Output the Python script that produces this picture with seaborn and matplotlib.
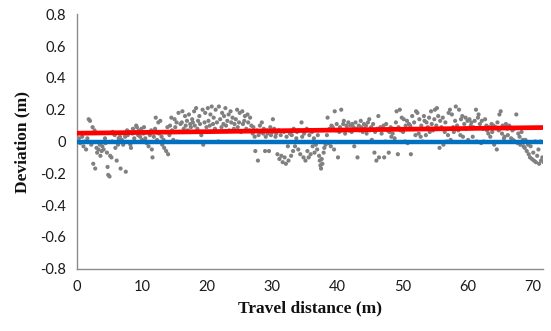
import numpy as np
import pandas as pd
import matplotlib
matplotlib.use('Agg')
import matplotlib.pyplot as plt
import seaborn as sns

# travel distance (m) of each measured point
dist = [
    0.3, 0.5, 0.8, 1.0, 1.2, 1.4, 1.6, 1.8, 2.0, 2.2,
    2.4, 2.5, 2.7, 2.8, 3.0, 3.1, 3.3, 3.5, 3.6, 3.8,
    3.9, 4.1, 4.3, 4.4, 4.6, 4.7, 4.8, 5.0, 5.1, 5.3,
    5.4, 5.5, 5.6, 5.8, 5.9, 6.1, 6.3, 6.4, 6.6, 6.7,
    6.9, 7.1, 7.2, 7.4, 7.5, 7.7, 7.8, 8.0, 8.2, 8.3,
    8.5, 8.6, 8.8, 8.9, 9.1, 9.2, 9.4, 9.5, 9.7, 9.9,
    10.0, 10.2, 10.3, 10.5, 10.7, 10.8, 11.0, 11.2, 11.4, 11.5,
    11.6, 11.8, 12.0, 12.1, 12.3, 12.5, 12.6, 12.8, 13.0, 13.1,
    13.3, 13.4, 13.6, 13.7, 13.9, 14.0, 14.2, 14.3, 14.5, 14.6,
    14.8, 15.0, 15.1, 15.3, 15.4, 15.6, 15.8, 15.9, 16.1, 16.2,
    16.4, 16.6, 16.7, 16.9, 17.0, 17.2, 17.4, 17.5, 17.7, 17.8,
    18.0, 18.1, 18.3, 18.5, 18.6, 18.8, 18.9, 19.1, 19.3, 19.4,
    19.6, 19.7, 19.9, 20.1, 20.2, 20.4, 20.5, 20.7, 20.9, 21.0,
    21.2, 21.3, 21.5, 21.7, 21.8, 22.0, 22.2, 22.3, 22.5, 22.6,
    22.8, 22.9, 23.1, 23.3, 23.4, 23.6, 23.7, 23.9, 24.1, 24.2,
    24.4, 24.6, 24.7, 24.9, 25.0, 25.2, 25.4, 25.5, 25.7, 25.8,
    26.0, 26.2, 26.3, 26.5, 26.6, 26.8, 27.0, 27.1, 27.3, 27.4,
    27.6, 27.8, 27.9, 28.1, 28.2, 28.4, 28.6, 28.7, 28.9, 29.0,
    29.2, 29.3, 29.5, 29.7, 29.8, 30.0, 30.1, 30.3, 30.5, 30.6,
    30.8, 31.0, 31.1, 31.3, 31.4, 31.6, 31.8, 31.9, 32.1, 32.2,
    32.4, 32.5, 32.7, 32.9, 33.0, 33.2, 33.3, 33.5, 33.7, 33.8,
    34.0, 34.1, 34.3, 34.5, 34.6, 34.8, 34.9, 35.1, 35.3, 35.4,
    35.6, 35.7, 35.9, 36.1, 36.2, 36.4, 36.5, 36.7, 36.9, 37.0,
    37.2, 37.3, 37.4, 37.5, 37.6, 37.7, 37.9, 38.0, 38.2, 38.4,
    38.5, 38.7, 38.8, 39.0, 39.1, 39.3, 39.5, 39.6, 39.8, 39.9,
    40.1, 40.3, 40.4, 40.6, 40.7, 40.9, 41.0, 41.2, 41.4, 41.5,
    41.7, 41.8, 42.0, 42.2, 42.3, 42.5, 42.6, 42.8, 43.0, 43.1,
    43.3, 43.4, 43.6, 43.7, 43.9, 44.1, 44.2, 44.4, 44.5, 44.7,
    44.9, 45.0, 45.2, 45.3, 45.5, 45.7, 45.8, 46.0, 46.1, 46.3,
    46.4, 46.6, 46.8, 46.9, 47.1, 47.2, 47.4, 47.5, 47.7, 47.9,
    48.0, 48.2, 48.3, 48.5, 48.6, 48.8, 49.0, 49.1, 49.3, 49.4,
    49.6, 49.7, 49.9, 50.1, 50.2, 50.4, 50.5, 50.7, 50.8, 51.0,
    51.2, 51.3, 51.5, 51.6, 51.8, 52.0, 52.1, 52.3, 52.5, 52.6,
    52.8, 52.9, 53.1, 53.3, 53.4, 53.6, 53.7, 53.9, 54.1, 54.2,
    54.4, 54.5, 54.7, 54.9, 55.0, 55.2, 55.3, 55.5, 55.7, 55.8,
    56.0, 56.2, 56.3, 56.5, 56.6, 56.8, 57.0, 57.1, 57.3, 57.4,
    57.6, 57.8, 57.9, 58.1, 58.2, 58.4, 58.6, 58.7, 58.9, 59.0,
    59.2, 59.3, 59.5, 59.7, 59.8, 60.0, 60.1, 60.3, 60.5, 60.6,
    60.8, 60.9, 61.1, 61.3, 61.4, 61.6, 61.7, 61.9, 62.1, 62.2,
    62.4, 62.5, 62.7, 62.9, 63.0, 63.2, 63.3, 63.5, 63.7, 63.8,
    64.0, 64.1, 64.3, 64.5, 64.6, 64.8, 64.9, 65.1, 65.3, 65.4,
    65.6, 65.7, 65.9, 66.1, 66.2, 66.4, 66.5, 66.7, 66.9, 67.0,
    67.2, 67.3, 67.5, 67.7, 67.8, 68.0, 68.1, 68.3, 68.5, 68.6,
    68.8, 68.9, 69.1, 69.3, 69.4, 69.6, 69.7, 69.9, 70.1, 70.2,
    70.4, 70.5, 70.7, 70.9, 71.0, 71.2, 71.3, 71.5, 71.7, 71.9,
]
# deviation (m) at each point
dev = [
    0.02, -0.01, 0.03, -0.03, 0.00, -0.05, 0.02, 0.14, 0.13, -0.02,
    0.09, -0.14, 0.07, -0.17, -0.04, -0.07, -0.05, -0.02, -0.09, -0.06,
    -0.03, -0.05, 0.02, -0.01, -0.07, -0.16, -0.21, -0.22, -0.09, -0.10,
    0.00, 0.06, 0.05, 0.04, -0.04, -0.12, -0.02, 0.02, 0.03, -0.17,
    0.01, -0.02, 0.05, 0.03, -0.19, 0.07, 0.04, 0.06, -0.02, -0.04,
    0.05, 0.08, 0.02, 0.06, 0.10, 0.09, 0.04, 0.07, 0.03, 0.08,
    0.01, 0.05, 0.09, 0.02, -0.01, 0.06, -0.03, 0.04, 0.07, -0.05,
    -0.10, 0.03, 0.08, 0.15, 0.01, 0.12, 0.05, 0.13, 0.03, -0.02,
    0.01, -0.04, 0.06, -0.06, 0.09, -0.08, 0.04, 0.10, 0.15, 0.07,
    0.01, 0.14, 0.09, 0.12, 0.00, 0.18, 0.06, 0.11, 0.12, 0.19,
    0.08, 0.16, 0.10, 0.13, 0.07, 0.17, 0.11, 0.09, 0.14, 0.12,
    0.19, 0.10, 0.21, 0.08, 0.13, 0.16, 0.11, 0.04, 0.20, -0.02,
    0.12, 0.18, 0.09, 0.21, 0.13, 0.10, 0.17, 0.22, 0.11, 0.15,
    0.08, 0.20, 0.12, 0.00, 0.22, 0.14, 0.09, 0.18, 0.11, 0.16,
    0.21, 0.10, 0.13, 0.17, 0.07, 0.19, 0.12, 0.15, 0.08, 0.11,
    0.14, 0.20, 0.09, 0.12, 0.18, 0.06, 0.19, 0.11, 0.13, 0.16,
    0.08, 0.17, 0.12, 0.07, 0.15, 0.10, 0.05, 0.09, 0.03, -0.06,
    0.07, -0.12, 0.04, 0.10, 0.06, 0.12, 0.05, 0.08, -0.06, 0.03,
    0.07, 0.05, -0.06, 0.09, 0.04, 0.06, 0.14, 0.08, 0.03, 0.05,
    -0.08, 0.07, -0.11, 0.04, -0.09, -0.13, 0.06, -0.10, -0.14, 0.03,
    -0.03, -0.12, 0.05, -0.09, 0.04, -0.06, 0.08, -0.03, 0.02, 0.06,
    -0.05, 0.07, -0.08, 0.12, 0.03, -0.10, 0.05, -0.12, 0.08, -0.06,
    -0.10, 0.04, -0.08, 0.06, -0.03, 0.02, -0.07, -0.02, -0.05, 0.04,
    -0.09, -0.12, -0.15, -0.17, -0.11, -0.14, -0.07, -0.04, -0.02, 0.04,
    0.15, -0.01, 0.08, -0.03, 0.10, 0.09, -0.05, 0.19, 0.07, 0.11,
    -0.10, 0.06, 0.09, 0.20, 0.07, 0.11, 0.13, 0.05, 0.10, 0.08,
    0.12, 0.07, 0.10, 0.06, 0.11, 0.09, -0.03, 0.12, 0.08, -0.10,
    0.10, 0.07, 0.13, 0.09, 0.06, 0.11, 0.08, 0.10, 0.05, 0.12,
    0.14, 0.07, 0.09, 0.01, 0.11, -0.07, 0.06, -0.12, 0.08, 0.16,
    -0.10, 0.09, 0.05, 0.08, 0.10, -0.10, 0.00, 0.11, 0.07, -0.07,
    0.06, 0.09, 0.03, 0.05, 0.08, 0.02, 0.12, 0.19, -0.08, 0.09,
    0.20, 0.07, 0.15, 0.06, 0.14, 0.00, 0.10, 0.13, -0.01, 0.11,
    0.10, -0.08, 0.16, 0.08, 0.12, 0.04, 0.19, 0.18, 0.05, 0.14,
    0.03, 0.10, 0.00, 0.16, 0.13, 0.04, 0.12, 0.09, 0.15, 0.06,
    0.19, 0.11, 0.07, 0.14, 0.20, 0.10, 0.21, 0.16, -0.04, 0.13,
    0.09, 0.15, -0.02, 0.06, 0.12, 0.00, 0.04, 0.18, 0.20, 0.01,
    0.17, 0.09, 0.06, 0.13, 0.22, 0.10, 0.07, 0.20, 0.04, 0.14,
    0.16, 0.03, 0.11, 0.15, 0.08, 0.13, 0.01, 0.14, 0.10, 0.12,
    0.03, 0.09, 0.13, 0.20, 0.00, 0.15, 0.17, 0.11, -0.01, 0.13,
    0.08, 0.00, 0.14, 0.10, 0.07, 0.05, 0.09, 0.03, 0.11, 0.06,
    0.10, -0.02, 0.09, -0.05, 0.12, 0.07, 0.17, 0.19, 0.05, 0.10,
    0.02, 0.03, 0.11, 0.08, 0.04, 0.10, 0.09, 0.02, 0.07, 0.01,
    0.08, 0.00, 0.17, -0.01, 0.05, 0.03, -0.02, 0.06, 0.01, -0.03,
    -0.04, 0.01, -0.06, -0.02, -0.08, -0.10, -0.03, -0.11, -0.07, -0.12,
    0.00, -0.13, -0.09, -0.05, -0.14, 0.00, -0.12, -0.10, -0.13, -0.04,
]
# red trend line and blue reference line (end points)
trend_x = [0, 72]
trend_y = [0.052, 0.088]
ref_x = [0, 72]
ref_y = [0.0, 0.0]

df = pd.DataFrame({'dist': dist, 'dev': dev})

sns.set_style('white')
fig = plt.figure(figsize=(5.51, 3.31), dpi=100)
ax = fig.add_axes([0.1397, 0.1882, 0.9855 - 0.1397, 0.9568 - 0.1882])

sns.scatterplot(data=df, x='dist', y='dev', ax=ax, color='#808080', s=9,
                linewidth=0, edgecolor='none', zorder=2)
sns.lineplot(x=ref_x, y=ref_y, ax=ax, color='#0070c0', linewidth=3.2, zorder=3)
sns.lineplot(x=trend_x, y=trend_y, ax=ax, color='#ff0000', linewidth=3.4, zorder=4)

ax.set_xlim(0, 71.6)
ax.set_ylim(-0.8, 0.8)
ax.set_xticks([0, 10, 20, 30, 40, 50, 60, 70])
ax.set_yticks([-0.8, -0.6, -0.4, -0.2, 0, 0.2, 0.4, 0.6, 0.8])
ax.set_yticklabels([('%g' % v) for v in [-0.8, -0.6, -0.4, -0.2, 0, 0.2, 0.4, 0.6, 0.8]])

for side in ['top', 'right']:
    ax.spines[side].set_visible(False)
for side in ['left', 'bottom']:
    ax.spines[side].set_color('#8c8c8c')
    ax.spines[side].set_linewidth(1.0)
ax.tick_params(axis='both', direction='out', length=4, width=1, color='#8c8c8c',
               labelsize=10.5, labelcolor='#1a1a1a', pad=4)
for lab in ax.get_xticklabels() + ax.get_yticklabels():
    lab.set_family(['Lato', 'DejaVu Sans'])

ax.set_xlabel('Travel distance (m)', family=['Liberation Serif'], fontweight='bold',
              fontsize=12.5, color='#111111', labelpad=5)
ax.set_ylabel('Deviation (m)', family=['Liberation Serif'], fontweight='bold',
              fontsize=12.5, color='#111111', labelpad=7)

fig.savefig('out.png', dpi=100)
